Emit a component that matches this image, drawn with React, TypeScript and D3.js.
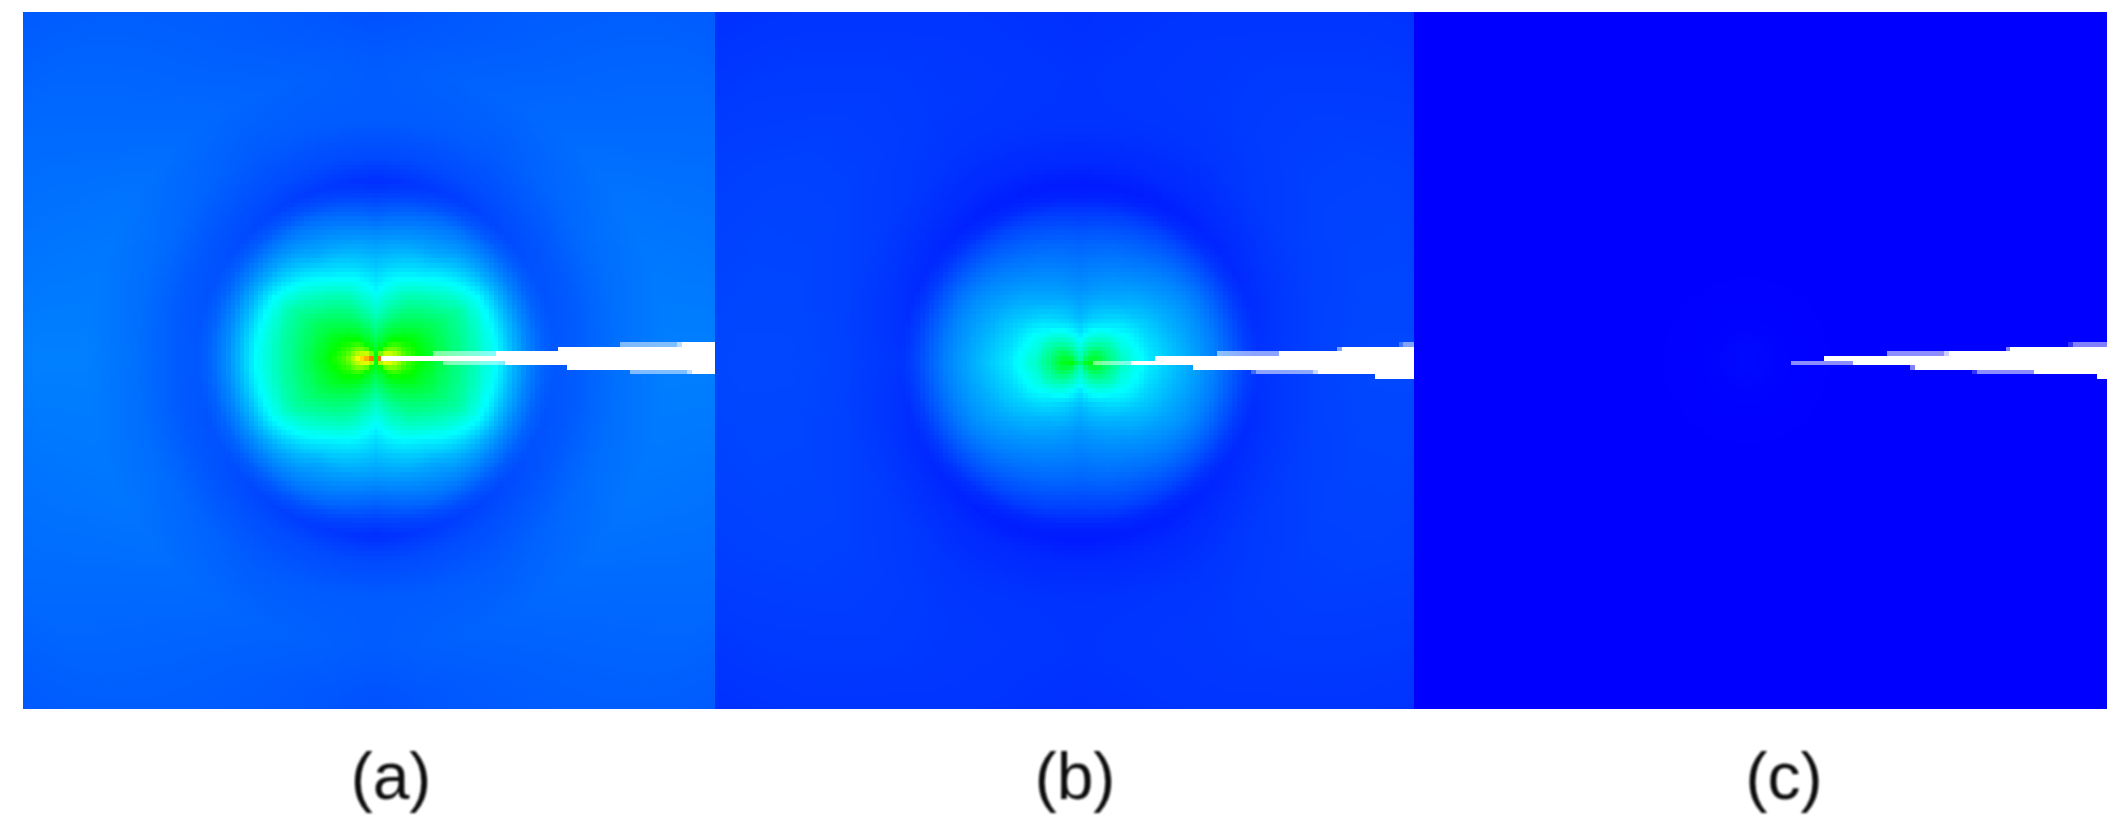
import React, { useMemo } from "react";
import * as d3 from "d3";

const GRID = 150;
const panelNames = ["(a)", "(b)", "(c)"];
const angles = [0, 30, 60, 90];
const radii = [0, 8, 18, 30, 45, 70, 95, 120, 135, 150, 165, 178, 200, 240, 290, 340, 420, 500];

const fieldA0 = [1.0, 0.85, 0.75, 0.58, 0.5, 0.41, 0.33, 0.25, 0.185, 0.135, 0.1, 0.085, 0.09, 0.11, 0.125, 0.125, 0.11, 0.09];
const fieldA30 = [0.85, 0.72, 0.62, 0.52, 0.47, 0.4, 0.34, 0.245, 0.18, 0.13, 0.095, 0.08, 0.085, 0.105, 0.115, 0.11, 0.105, 0.09];
const fieldA60 = [0.6, 0.52, 0.48, 0.45, 0.4, 0.33, 0.235, 0.165, 0.14, 0.115, 0.08, 0.062, 0.075, 0.09, 0.1, 0.095, 0.09, 0.085];
const fieldA90 = [0.5, 0.47, 0.42, 0.37, 0.31, 0.24, 0.19, 0.145, 0.115, 0.085, 0.058, 0.045, 0.07, 0.09, 0.09, 0.08, 0.08, 0.08];

const fieldB0 = [0.4, 0.5, 0.47, 0.38, 0.3, 0.23, 0.19, 0.15, 0.125, 0.095, 0.065, 0.05, 0.055, 0.065, 0.07, 0.07, 0.065, 0.055];
const fieldB30 = [0.4, 0.43, 0.42, 0.35, 0.27, 0.21, 0.17, 0.14, 0.115, 0.085, 0.055, 0.04, 0.048, 0.06, 0.065, 0.065, 0.06, 0.05];
const fieldB60 = [0.36, 0.36, 0.34, 0.28, 0.22, 0.17, 0.14, 0.11, 0.09, 0.068, 0.04, 0.03, 0.04, 0.05, 0.055, 0.055, 0.05, 0.045];
const fieldB90 = [0.32, 0.31, 0.27, 0.22, 0.18, 0.145, 0.12, 0.095, 0.075, 0.055, 0.032, 0.025, 0.04, 0.05, 0.05, 0.047, 0.045, 0.04];

const fieldC = [0.01, 0.008, 0.006, 0.004, 0.002, 0.001, 0, 0, 0, 0, 0, 0, 0, 0, 0, 0, 0, 0];

const fieldsA = [fieldA0, fieldA30, fieldA60, fieldA90];
const fieldsB = [fieldB0, fieldB30, fieldB60, fieldB90];
const fieldsC = [fieldC, fieldC, fieldC, fieldC];

// tip location of each field, in grid cells
const tipA = [76.5, 74.6];
const tipB = [78.3, 75.4];
const tipC = [72, 75.0];

// crack cells: row, first column, last column, coverage
const crackA: number[][] = [
  [74, 77.6, 150, 1], [73, 88.9, 102.5, 0.5], [73, 102.5, 150, 1], [72, 115.9, 150, 1],
  [71, 129.4, 141.8, 0.5], [71, 141.8, 142.9, 0.75], [71, 142.9, 150, 1],
  [75, 91, 104.5, 0.5], [75, 104.5, 150, 1], [76, 118, 150, 1],
  [77, 131.5, 143.9, 0.5], [77, 143.9, 145, 0.75], [77, 145, 150, 1],
];
const crackB: number[][] = [
  [75, 81.2, 89.3, 0.5], [75, 89.3, 150, 1], [74, 94.4, 150, 1],
  [73, 107.7, 121.1, 0.55], [73, 121.1, 150, 1], [72, 133.4, 134.5, 0.5], [72, 134.5, 150, 1],
  [71, 146.8, 147.6, 0.25], [71, 147.6, 150, 0.5], [76, 102.6, 150, 1],
  [77, 115, 116, 0.25], [77, 116, 128.4, 0.55], [77, 128.4, 129.3, 0.8], [77, 129.3, 150, 1],
  [78, 141.6, 150, 1],
];
const crackC: number[][] = [
  [71, 141.6, 142.6, 0.2], [71, 142.6, 150, 0.5], [72, 128.1, 129.1, 0.5], [72, 129.1, 150, 1],
  [73, 102.3, 114.7, 0.55], [73, 114.7, 115.7, 0.8], [73, 115.7, 150, 1], [74, 88.8, 150, 1],
  [75, 81.6, 95, 0.55], [75, 95, 150, 1], [76, 107.4, 108.4, 0.5], [76, 108.4, 150, 1],
  [77, 120.8, 121.9, 0.2], [77, 121.9, 134.3, 0.55], [77, 134.3, 150, 1], [78, 147.8, 150, 1],
];

const jet = d3
  .scaleLinear<string>()
  .domain([0, 0.25, 0.5, 0.75, 1])
  .range(["#0000ff", "#00ffff", "#00ff00", "#ffff00", "#ff0000"])
  .clamp(true);

const layouts = [
  { x0: 23, x1: 715, fields: fieldsA, tip: tipA, crack: crackA, labelX: 391 },
  { x0: 715, x1: 1414, fields: fieldsB, tip: tipB, crack: crackB, labelX: 1075 },
  { x0: 1414, x1: 2107, fields: fieldsC, tip: tipC, crack: crackC, labelX: 1784 },
];

const y0 = 12;
const y1 = 709;

function Panel({ layout, name }: { layout: (typeof layouts)[number]; name: string }) {
  const { x0, x1, fields, tip, crack, labelX } = layout;
  const sx = d3.scaleLinear().domain([0, GRID]).range([x0, x1]);
  const sy = d3.scaleLinear().domain([0, GRID]).range([y0, y1]);
  const cells = useMemo(() => {
    const profiles = fields.map((f) => d3.scaleLinear().domain(radii).range(f).clamp(true));
    const out: { x: number; y: number; w: number; h: number; c: string }[] = [];
    const tx = sx(tip[0]);
    const ty = sy(tip[1]);
    for (let r = 0; r < GRID; r++) {
      const top = Math.round(sy(r));
      const h = Math.round(sy(r + 1)) - top;
      let runStart = 0;
      let runColor = "";
      for (let c = 0; c <= GRID; c++) {
        let color = "";
        if (c < GRID) {
          const dx = sx(c + 0.5) - tx;
          const dy = sy(r + 0.5) - ty;
          const rad = Math.hypot(dx, dy);
          const ang = (Math.atan2(Math.abs(dy), Math.abs(dx)) * 180) / Math.PI;
          const i = Math.min(angles.length - 2, Math.floor(ang / 30));
          const f = (ang - angles[i]) / (angles[i + 1] - angles[i]);
          const v = profiles[i](rad) * (1 - f) + profiles[i + 1](rad) * f;
          color = d3.color(jet(v))!.formatHex();
        }
        if (color !== runColor) {
          if (runColor) {
            const a = Math.round(sx(runStart));
            out.push({ x: a, y: top, w: Math.round(sx(c)) - a, h, c: runColor });
          }
          runStart = c;
          runColor = color;
        }
      }
    }
    return out;
  }, []);
  return (
    <g>
      <g shapeRendering="crispEdges">
        {cells.map((d, i) => (
          <rect key={i} x={d.x} y={d.y} width={d.w} height={d.h} fill={d.c} />
        ))}
        {crack.map(([row, from, to, op], i) => (
          <rect
            key={"k" + i}
            x={Math.round(sx(from))}
            y={Math.round(sy(row))}
            width={Math.round(sx(to)) - Math.round(sx(from))}
            height={Math.round(sy(row + 1)) - Math.round(sy(row))}
            fill="#ffffff"
            fillOpacity={op}
          />
        ))}
      </g>
      <text
        x={labelX}
        y={799}
        textAnchor="middle"
        fontFamily="Liberation Sans, Arial, sans-serif"
        fontSize={66}
        fill="#111"
        filter="url(#soft)"
      >
        {name}
      </text>
    </g>
  );
}

export default function App() {
  return (
    <svg
      width={2115}
      height={828}
      viewBox="0 0 2115 828"
      style={{ position: "fixed", left: 0, top: 0, display: "block", background: "#fff" }}
    >
      <defs>
        <filter id="soft" x="-10%" y="-10%" width="120%" height="120%">
          <feGaussianBlur stdDeviation="0.9" />
        </filter>
      </defs>
      {layouts.map((l, i) => (
        <Panel key={i} layout={l} name={panelNames[i]} />
      ))}
    </svg>
  );
}
